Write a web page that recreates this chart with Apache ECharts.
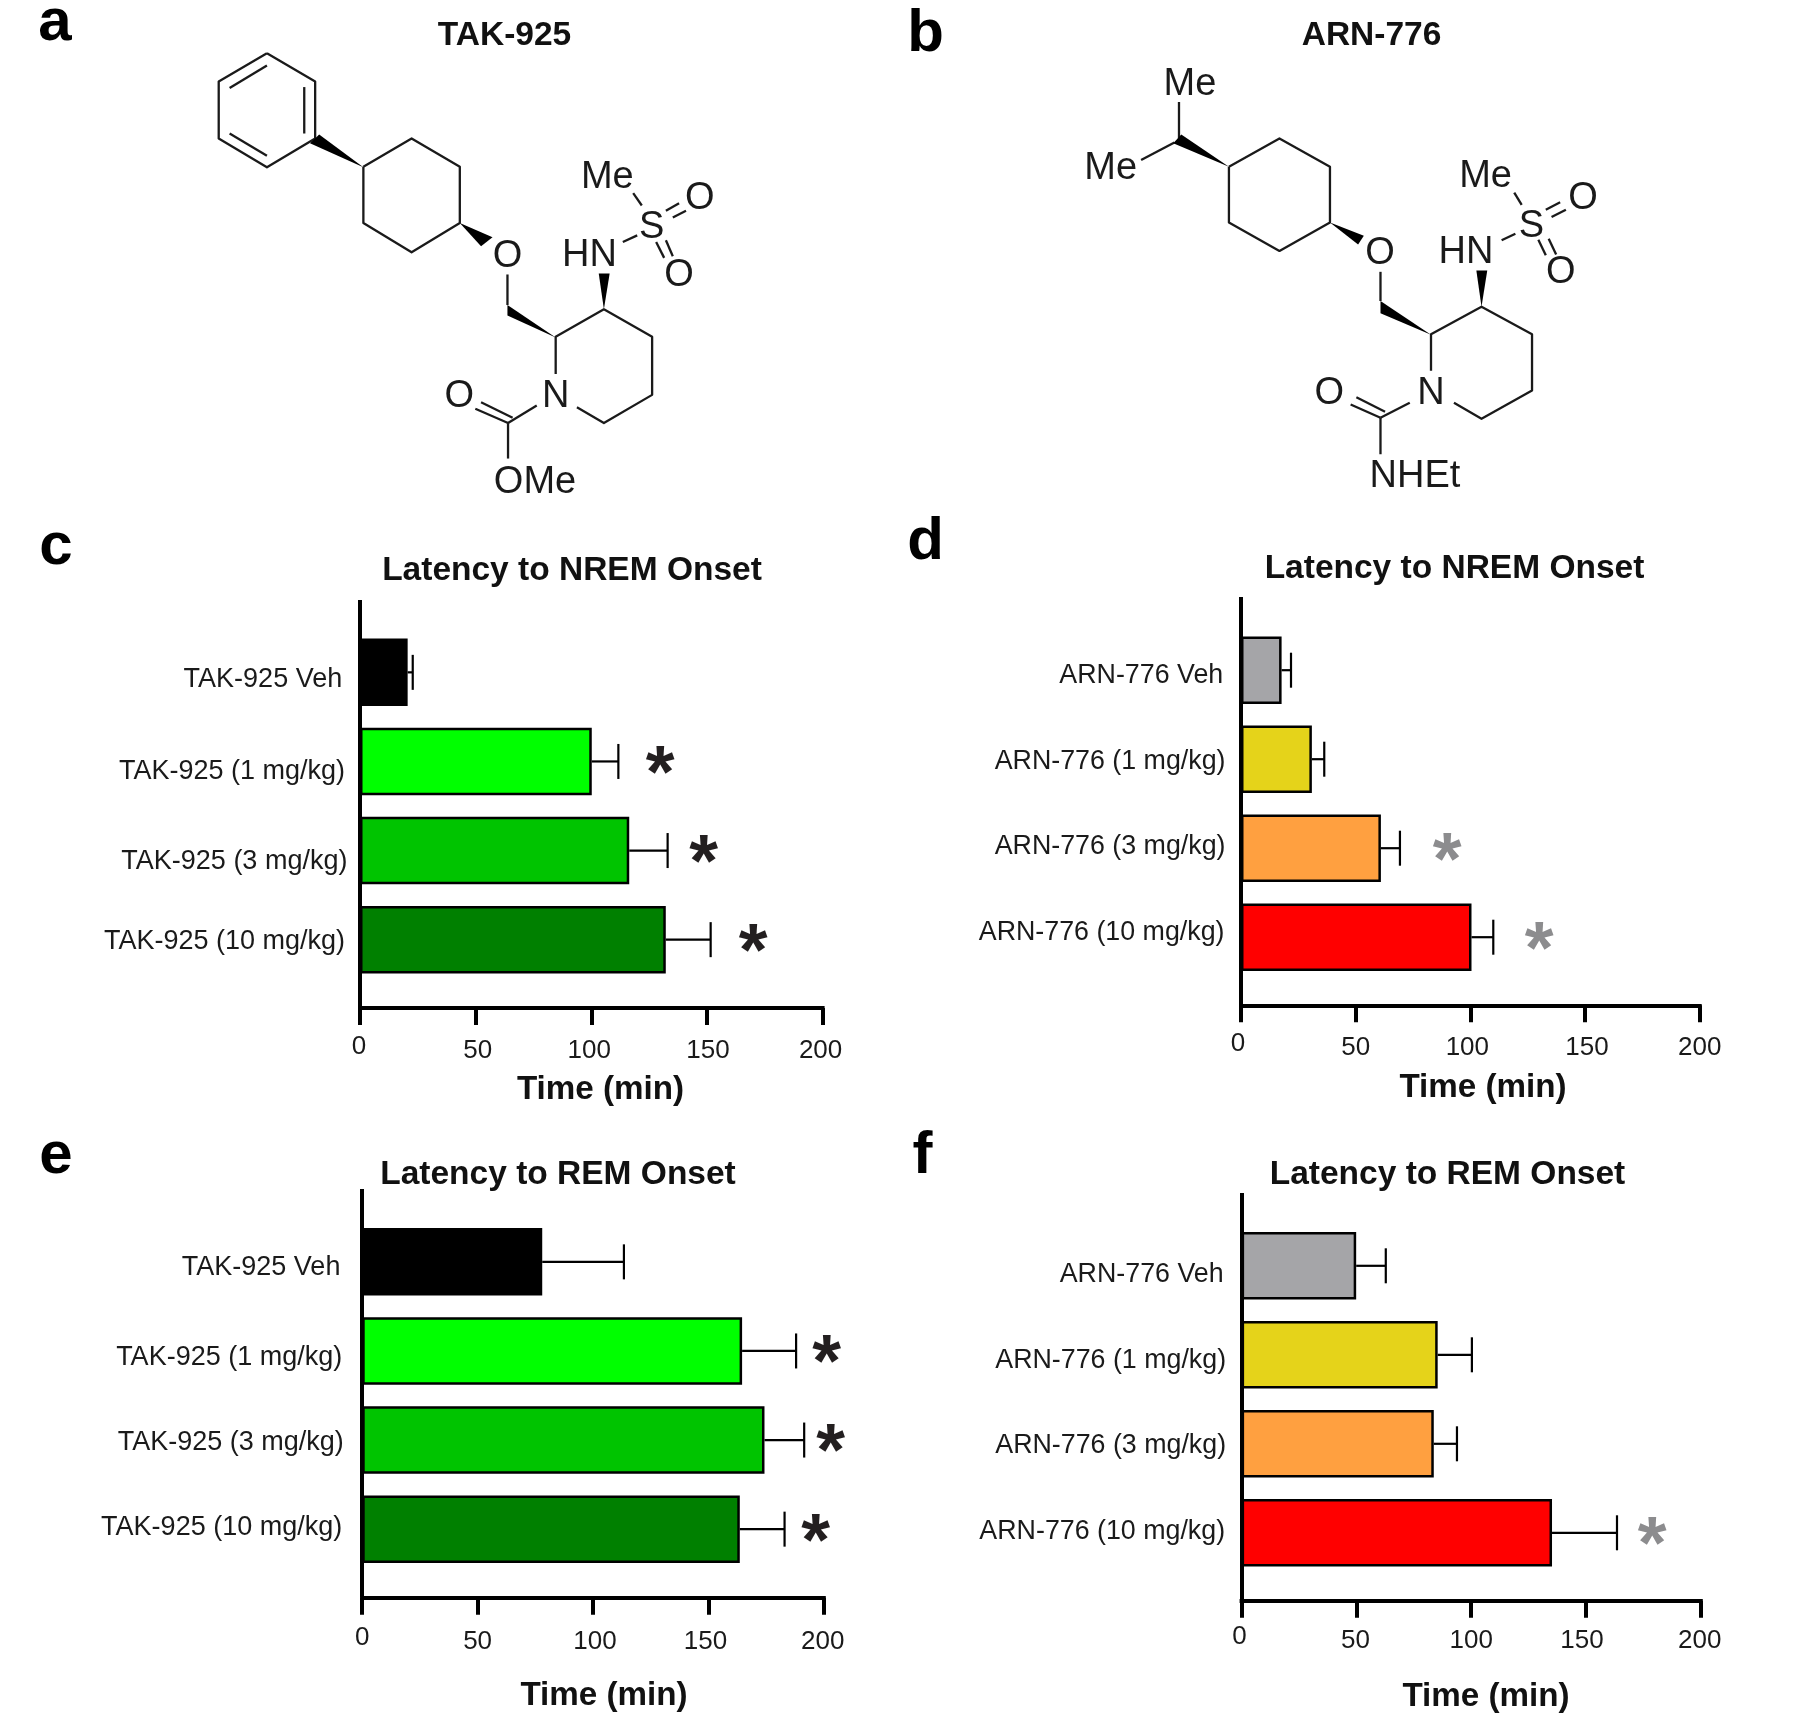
<!DOCTYPE html>
<html><head><meta charset="utf-8">
<style>html,body{margin:0;padding:0;background:#fff}#c{width:1800px;height:1724px}</style>
<script src="https://cdn.jsdelivr.net/npm/echarts@6/dist/echarts.min.js"></script>
</head><body><div id="c"></div>
<script>
const FONT = '"Liberation Sans", Arial, sans-serif';
const takLabels = ['TAK-925 Veh','TAK-925 (1 mg/kg)','TAK-925 (3 mg/kg)','TAK-925 (10 mg/kg)'];
const arnLabels = ['ARN-776 Veh','ARN-776 (1 mg/kg)','ARN-776 (3 mg/kg)','ARN-776 (10 mg/kg)'];
const takColors = ['#000000','#00ff00','#00c400','#008000'];
const arnColors = ['#a5a5a8','#e5d31a','#ffa040','#ff0000'];
const xTicks = [0,50,100,150,200];

const cMeans = [20.6,100.2,116.4,132.2];  const cUpper = [22.8,111.7,133,151.6];
const dMeans = [17.7,30.9,61,100.5];      const dUpper = [21.8,36.3,69.3,110];
const eMeans = [78,164.6,174.3,163.6];    const eUpper = [113.4,188,191.5,183];
const fMeans = [49.9,85.4,83.7,135.2];    const fUpper = [62.8,100.3,93.8,163.5];
const cStars = [[1,129.8],[2,148.6],[3,170]];
const dStars = [[2,89.9],[3,130]];
const eStars = [[1,201.2],[2,203],[3,196.5]];
const fStars = [[3,178.8]];

const panels = [
 {x0:360,x1:822.6,lineTop:600,axisY:1008,bandTop:627.8,step:89.1,means:cMeans,upper:cUpper,stars:cStars,starColor:'#231f20',labels:takLabels,labFont:27,colors:takColors,
  title:'Latency to NREM Onset',titleX:567,titleY:568,nameX:600.5,nameDy:81.5,tickY:33.5,tickDy:4.5,tickDx:[-1,2,-2,1,-2],labR:[17.8,15,12.6,15],labDy:[6.7,10,10.8,1.4]},
 {x0:1241,x1:1699.7,lineTop:597,axisY:1005.3,bandTop:625.7,step:89,means:dMeans,upper:dUpper,stars:dStars,starColor:'#8c8c8e',labels:arnLabels,labFont:26.8,colors:arnColors,
  title:'Latency to NREM Onset',titleX:1449.5,titleY:566,nameX:1483,nameDy:82.5,tickY:33.5,tickDy:4,tickDx:[-3,0,-3,2,0],labR:[17.8,15.5,15.5,16.5],labDy:[5,2,-1.5,-5]},
 {x0:362.2,x1:823.8,lineTop:1189,axisY:1597.8,bandTop:1217.3,step:89.1,means:eMeans,upper:eUpper,stars:eStars,starColor:'#231f20',labels:takLabels,labFont:27,colors:takColors,
  title:'Latency to REM Onset',titleX:553,titleY:1171.5,nameX:604,nameDy:97.5,tickY:35.5,tickDy:4,tickDx:[0,0,2,-3,-1],labR:[21.8,20,18.4,20],labDy:[5.5,6.3,2.2,-1.4]},
 {x0:1241.6,x1:1700.8,lineTop:1193,axisY:1600.8,bandTop:1221.3,step:89,means:fMeans,upper:fUpper,stars:fStars,starColor:'#8c8c8e',labels:arnLabels,labFont:26.8,colors:arnColors,
  title:'Latency to REM Onset',titleX:1442.5,titleY:1171.5,nameX:1486,nameDy:95.5,tickY:31.5,tickDy:4,tickDx:[-2,-1,0,-4,-1],labR:[18,15.5,15.5,16.5],labDy:[8.5,5.8,2,-1.5]}
];

// Chemical structures, in source-crop units (scaled in toPx)
const ringLines = {
 a:[[[465,153],[549,238],[549,410],[465,497],[381,410],[381,238],[465,153]],
    [[400,258],[465,190]],[[530,255],[530,395]],[[400,395],[465,462]],
    [[633,495],[717,410],[801,495],[801,665],[717,753],[633,665],[633,495]],
    [[884,820],[884,912]],
    [[968,1120],[968,1008],[1052,925],[1136,1008],[1136,1183],[1052,1268],[1005,1220]],
    [[1103,575],[1118,612]],[[1085,722],[1110,702]],
    [[1160,628],[1183,605]],[[1172,648],[1195,628]],
    [[1143,722],[1157,770]],[[1160,717],[1172,765]],
    [[935,1215],[885,1268]],[[828,1225],[885,1268]],[[838,1205],[893,1252]],[[885,1268],[885,1375]]],
 b:[[[486,300],[486,410]],[[420,475],[478,422]],
    [[573,495],[661,410],[749,495],[749,663],[661,749],[573,663],[573,495]],
    [[837,812],[837,900]],
    [[925,1110],[925,1000],[1013,917],[1101,1000],[1101,1170],[1013,1255],[965,1207]],
    [[1070,573],[1083,610]],[[1048,717],[1072,697]],
    [[1125,625],[1150,602]],[[1135,647],[1160,625]],
    [[1112,715],[1125,762]],[[1130,712],[1143,760]],
    [[888,1207],[837,1252]],[[785,1212],[837,1252]],[[795,1190],[845,1234]],[[837,1252],[837,1362]]]
};
const wedges = {
 a:[[[633,497],[540,424],[556,398]],[[801,665],[858,708],[838,735]],[[968,1010],[884,912],[884,944]],[[1052,925],[1043,817],[1062,817]]],
 b:[[[573,495],[476,424],[490,398]],[[749,663],[808,703],[798,730]],[[925,1002],[837,900],[837,937]],[[1013,917],[1004,808],[1023,808]]]
};
const atomLabels = {
 a:[['Me',1058,520],['S',1135,670],['O',1219,583],['O',1183,815],['HN',1027,755],['O',884,757],['N',968,1180],['O',800,1180],['OMe',932,1440]],
 b:[['Me',505,239],['Me',367,494],['Me',1020,518],['S',1100,667],['O',1190,582],['O',1151,808],['HN',986,747],['O',836,748],['N',925,1172],['O',748,1170],['NHEt',897,1422]]
};
const structOffset = {a:0,b:900};
const panelLetters = [['a',55,40],['b',925.5,51],['c',56,564],['d',925.5,559],['e',56,1173],['f',922.5,1173]];
const compoundTitles = [['TAK-925',499.5,33],['ARN-776',1366.5,33]];

function toPx(k,p){return [p[0]/1.742+structOffset[k], p[1]/3.015+2.5];}
const graphics = [];
for (const k of ['a','b']) {
  for (const l of ringLines[k]) graphics.push({type:'polyline',shape:{points:l.map(p=>toPx(k,p))},style:{stroke:'#1a1a1a',lineWidth:2.3,fill:null,lineJoin:'round'}});
  for (const w of wedges[k]) graphics.push({type:'polygon',shape:{points:w.map(p=>toPx(k,p))},style:{fill:'#000'}});
  for (const t of atomLabels[k]) { const p=toPx(k,[t[1],t[2]]);
    graphics.push({type:'text',x:p[0],y:p[1]+2.5,style:{text:t[0],font:'38px '+FONT,fill:'#1a1a1a',textAlign:'center',textVerticalAlign:'middle'}}); }
}
for (const t of panelLetters) graphics.push({type:'text',x:t[1],y:t[2]+13,style:{text:t[0],font:'bold 60px '+FONT,fill:'#000',textAlign:'center',textVerticalAlign:'bottom'}});

const titles=[], grids=[], xAxes=[], yAxes=[], series=[];
for (const t of compoundTitles) titles.push({text:t[0],left:t[1],top:t[2]-19,textAlign:'center',textStyle:{fontFamily:FONT,fontWeight:'bold',fontSize:33.5,color:'#111'}});

panels.forEach((P,i)=>{
  const g=2*i, f=2*i+1, w=P.x1-P.x0;
  titles.push({text:P.title,left:P.titleX,top:P.titleY-19,textAlign:'center',textStyle:{fontFamily:FONT,fontWeight:'bold',fontSize:33.5,color:'#111'}});
  // bar grid
  grids.push({left:P.x0,top:P.bandTop,width:w,height:4*P.step});
  xAxes.push({gridIndex:g,type:'value',min:0,max:200,show:false});
  const labRich={};
  P.labels.forEach((s,j)=>{labRich['l'+j]={fontFamily:FONT,fontSize:P.labFont,color:'#1a1a1a',
    padding:[Math.max(0,2*P.labDy[j]),P.labR[j]-8,Math.max(0,-2*P.labDy[j]),0]};});
  yAxes.push({gridIndex:g,type:'category',inverse:true,data:P.labels,
    axisLine:{show:false},axisTick:{show:false},
    axisLabel:{interval:0,margin:8,hideOverlap:false,formatter:(v,j)=>`{l${j}|${v}}`,rich:labRich}});
  // frame grid (long y-axis line, x-axis)
  grids.push({left:P.x0,top:P.lineTop,width:w,height:P.axisY-P.lineTop});
  const rich={};
  xTicks.forEach((v,j)=>{const d=P.tickDx[j];
    rich['t'+v]={fontFamily:FONT,fontSize:26,color:'#1a1a1a',padding:[j?P.tickDy:0,d<0?-2*d:0,0,d>0?2*d:0]};});
  xAxes.push({gridIndex:f,type:'value',min:0,max:200,interval:50,z:5,
    axisLine:{show:true,onZero:false,lineStyle:{color:'#000',width:4,cap:'square'}},
    axisTick:{show:true,length:17,lineStyle:{color:'#000',width:4}},
    splitLine:{show:false},
    axisLabel:{margin:P.tickY-8,showMinLabel:true,showMaxLabel:true,hideOverlap:false,formatter:v=>`{t${v}|${v}}`,rich},
    name:'Time (min)',nameLocation:'middle',nameGap:P.nameDy-16,
    nameTextStyle:{fontFamily:FONT,fontWeight:'bold',fontSize:33.2,color:'#111',padding:[0,0,0,2*(P.nameX-(P.x0+P.x1)/2)]}});
  yAxes.push({gridIndex:f,type:'value',min:0,max:1,z:5,
    axisLine:{show:true,onZero:false,lineStyle:{color:'#000',width:4,cap:'butt'}},
    axisTick:{show:false},axisLabel:{show:false},splitLine:{show:false}});
  // series
  series.push({type:'bar',xAxisIndex:g,yAxisIndex:g,barWidth:67.5,silent:true,
    data:P.means.map((v,j)=>({value:v,itemStyle:{color:P.colors[j],borderColor:'#000',borderWidth:2.5}})),animation:false});
  series.push({type:'custom',xAxisIndex:g,yAxisIndex:g,silent:true,animation:false,
    data:P.means.map((v,j)=>[j,v,P.upper[j]]),encode:{y:0,x:[1,2]},z:4,
    renderItem:(params,api)=>{
      const a=api.coord([api.value(1),api.value(0)]), b=api.coord([api.value(2),api.value(0)]);
      const s={stroke:'#000',lineWidth:2.2,fill:null};
      return {type:'group',children:[
        {type:'line',shape:{x1:a[0],y1:a[1],x2:b[0],y2:b[1]},style:s},
        {type:'line',shape:{x1:b[0],y1:b[1]-17.5,x2:b[0],y2:b[1]+17.5},style:s}]};
    }});
  series.push({type:'custom',xAxisIndex:g,yAxisIndex:g,silent:true,animation:false,clip:false,
    data:P.stars,encode:{y:0,x:1},z:4,
    renderItem:(params,api)=>{
      const c=api.coord([api.value(1),api.value(0)]);
      return {type:'text',x:c[0],y:c[1]+15,style:{text:'*',font:'bold 74px '+FONT,fill:P.starColor,textAlign:'center',textVerticalAlign:'middle'}};
    }});
});

const chart=echarts.init(document.getElementById('c'),null,{renderer:'canvas',width:1800,height:1724});
chart.setOption({animation:false,backgroundColor:'#fff',title:titles,grid:grids,xAxis:xAxes,yAxis:yAxes,series,graphic:{elements:graphics}});
</script></body></html>
